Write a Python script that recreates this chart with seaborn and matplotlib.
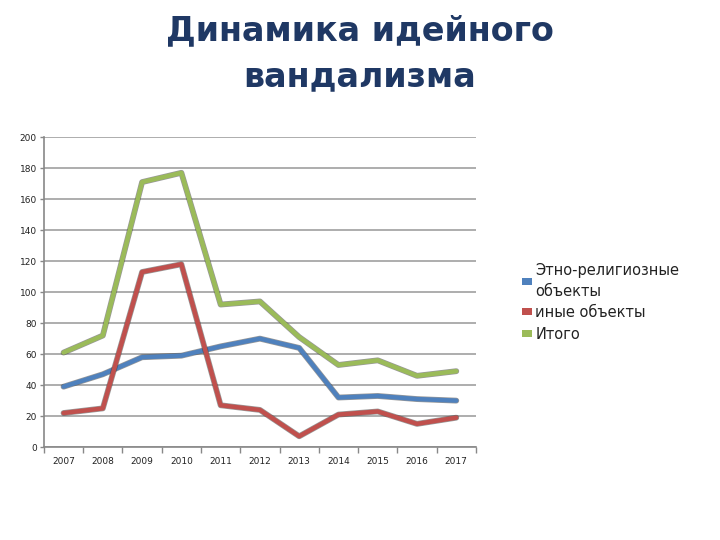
import matplotlib
matplotlib.use("Agg")
import matplotlib.pyplot as plt
import matplotlib.patheffects as pe
from matplotlib.patches import Patch
import seaborn as sns
import pandas as pd
import numpy as np

years = ["2007", "2008", "2009", "2010", "2011", "2012", "2013", "2014", "2015", "2016", "2017"]
ethno = [39, 47, 58, 59, 65, 70, 64, 32, 33, 31, 30]
other = [22, 25, 113, 118, 27, 24, 7, 21, 23, 15, 19]
total = [61, 72, 171, 177, 92, 94, 71, 53, 56, 46, 49]
series_names = ["Этно-религиозные\nобъекты", "иные объекты", "Итого"]
colors = ["#4F81BD", "#C0504D", "#9BBB59"]
title_lines = ["Динамика идейного", "вандализма"]

rows = []
for name, vals in zip(series_names, [ethno, other, total]):
    for i, (y, v) in enumerate(zip(years, vals)):
        rows.append({"pos": i, "year": y, "value": v, "series": name})
df = pd.DataFrame(rows)

sns.set_theme(style="white")
plt.rcParams['font.family'] = ['DejaVu Sans']

fig = plt.figure(figsize=(7.2, 5.4), dpi=100)
ax = fig.add_axes([0.061, 0.172, 0.6, 0.574])

sns.lineplot(data=df, x="pos", y="value", hue="series", palette=colors,
             hue_order=series_names, linewidth=3.2, ax=ax, legend=False, sort=False)
for line in ax.lines:
    line.set_path_effects([pe.Stroke(linewidth=4.2, foreground="#333333", alpha=0.5), pe.Normal()])

ax.set_xlim(-0.5, len(years) - 0.5)
ax.set_ylim(0, 200)
ax.set_yticks(np.arange(0, 201, 20))
ax.yaxis.grid(True, color="#a0a0a0", linewidth=1.2)
ax.set_axisbelow(True)
ax.set_xticks(np.arange(len(years)))
ax.set_xticklabels(years)
ax.set_xticks(np.arange(-0.5, len(years)), minor=True)
ax.tick_params(axis="x", which="major", length=0, labelsize=6.5, pad=7, colors="#222222")
ax.tick_params(axis="x", which="minor", length=4, width=1, color="#888888", direction="out", bottom=True)
ax.tick_params(axis="y", length=3, width=1, color="#888888", labelsize=6.5, left=True, pad=2, colors="#222222")
ax.set_xlabel("")
ax.set_ylabel("")
for s in ["top", "right"]:
    ax.spines[s].set_visible(False)
for s in ["left", "bottom"]:
    ax.spines[s].set_color("#888888")
    ax.spines[s].set_linewidth(1.2)

fig.text(0.5, 1 - 31 / 540, title_lines[0], ha="center", va="center", fontsize=24,
         fontweight="bold", color="#1F3864")
fig.text(0.5, 1 - 77 / 540, title_lines[1], ha="center", va="center", fontsize=24,
         fontweight="bold", color="#1F3864")

handles = [Patch(facecolor=c, edgecolor="none") for c in colors]
leg = fig.legend(handles, series_names, loc="center left", bbox_to_anchor=(0.707, 0.44),
                 frameon=False, fontsize=10.5, handlelength=0.7, handleheight=0.35,
                 handletextpad=0.2, labelspacing=0.45, labelcolor="#222222")
for t in leg.get_texts():
    t.set_linespacing(1.45)

fig.savefig("out.png", dpi=100, facecolor="white")
